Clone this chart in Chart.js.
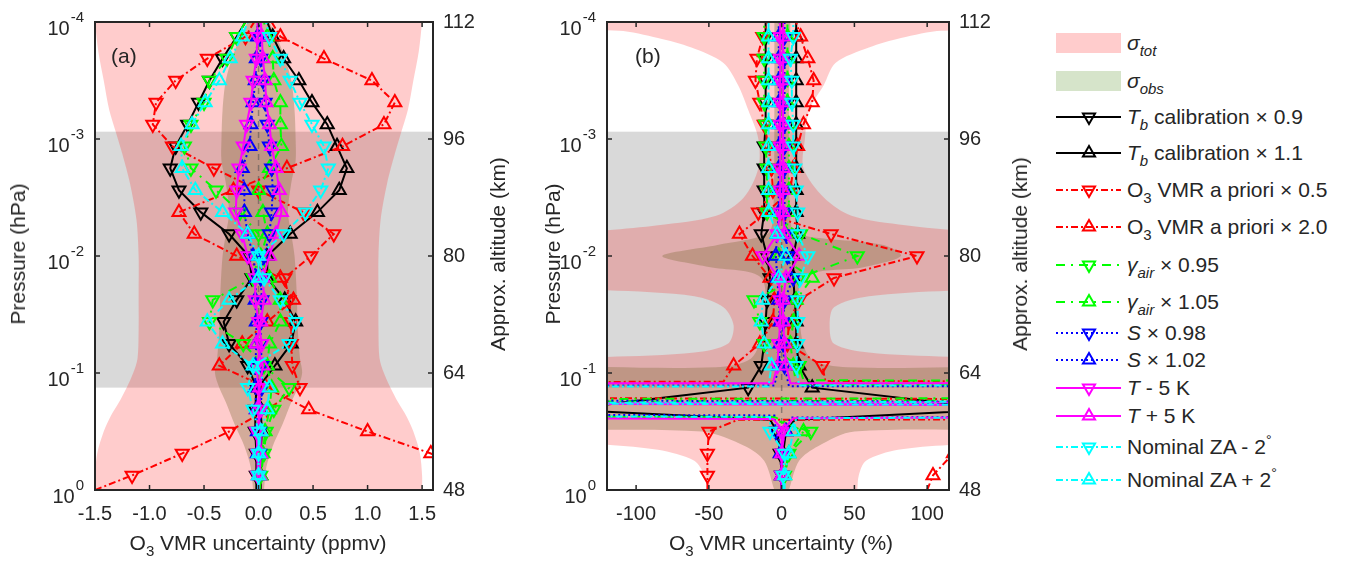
<!DOCTYPE html>
<html>
<head>
<meta charset="utf-8">
<title>O3 VMR uncertainty</title>
<script src="https://cdn.jsdelivr.net/npm/chart.js@4.4.1/dist/chart.umd.min.js"></script>
<style>
  body { margin: 0; width: 1360px; height: 561px; background: #fff; position: relative; overflow: hidden;
         font-family: "Liberation Sans", Arial, sans-serif; color: #262626; }
  canvas { position: absolute; top: 0; }
  #chartA { left: 0; }
  #chartB { left: 530px; }
  .txt { position: absolute; font-size: 21px; white-space: nowrap; line-height: 24px; }
  .ytitle { transform: translate(-50%, -50%) rotate(-90deg); }
  .xtitle { transform: translate(-50%, -50%); }
  sub { font-size: 15px; vertical-align: -6px; line-height: 0; }
  sup { font-size: 14px; vertical-align: 9px; line-height: 0; }
  .leg { position: absolute; left: 1056px; height: 30px; display: flex; align-items: center;
         font-size: 21px; white-space: nowrap; transform: translateY(-50%); }
  .leg svg, .leg .box { width: 65px; flex: none; margin-right: 6px; }
  .box { height: 20px; }
</style>
</head>
<body>
<canvas id="chartA" width="515" height="561"></canvas>
<canvas id="chartB" width="507" height="561"></canvas>
<div class="txt" style="left:111px;top:44px">(a)</div>
<div class="txt" style="left:635px;top:44px">(b)</div>
<div class="txt ytitle" style="left:18px;top:254px">Pressure (hPa)</div>
<div class="txt ytitle" style="left:498px;top:254px">Approx. altitude (km)</div>
<div class="txt ytitle" style="left:553px;top:254px">Pressure (hPa)</div>
<div class="txt ytitle" style="left:1020px;top:254px">Approx. altitude (km)</div>
<div class="txt xtitle" style="left:258px;top:543px">O<sub>3</sub> VMR uncertainty (ppmv)</div>
<div class="txt xtitle" style="left:781px;top:543px">O<sub>3</sub> VMR uncertainty (%)</div>
<div id="legend"></div>
<script>
'use strict';

// marked retrieval levels (km) and axis ticks
const levelKm = [50, 53, 56, 59, 62, 65, 68, 71, 74, 77, 80, 83, 86, 89, 92, 95, 98, 101, 104, 107, 110];
const pressureTicks = [1e-4, 1e-3, 1e-2, 1e-1, 1];
const altTicks = [48, 64, 80, 96, 112];
const xTicksA = [-1.5, -1, -0.5, 0, 0.5, 1, 1.5];
const xTicksB = [-100, -50, 0, 50, 100];
const greyBandKm = [62, 97];

// (a) O3 VMR change, ppmv (bottom level first)
const ppmvTb09 = [-0.02, -0.02, -0.03, -0.03, -0.02, -0.10, -0.27, -0.32, -0.20, -0.06, -0.09, -0.27, -0.53, -0.73, -0.81, -0.76, -0.65, -0.55, -0.45, -0.33, -0.20];
const ppmvTb11 = [0.02, 0.02, 0.03, 0.02, 0.00, 0.15, 0.30, 0.34, 0.24, 0.08, 0.08, 0.29, 0.54, 0.74, 0.81, 0.72, 0.63, 0.49, 0.37, 0.23, 0.13];
const ppmvApr05 = [-1.16, -0.70, -0.27, 0.08, 0.38, 0.31, 0.30, 0.30, 0.28, 0.24, 0.48, 0.69, 0.41, 0.00, -0.41, -0.79, -0.97, -0.94, -0.76, -0.47, -0.12];
const ppmvApr20 = [1.90, 1.58, 1.00, 0.46, 0.07, -0.36, -0.15, 0.08, 0.32, 0.20, -0.20, -0.59, -0.73, -0.23, 0.26, 0.77, 1.15, 1.25, 1.04, 0.60, 0.20];
const ppmvGam095 = [0.02, 0.05, 0.07, 0.14, 0.28, 0.05, -0.14, -0.45, -0.42, -0.05, 0.00, 0.00, -0.17, -0.39, -0.62, -0.68, -0.62, -0.50, -0.45, -0.29, -0.20];
const ppmvGam105 = [0.02, 0.04, 0.06, 0.10, 0.12, 0.08, 0.10, 0.20, 0.20, 0.10, 0.02, 0.08, 0.04, 0.00, 0.10, 0.21, 0.20, 0.20, 0.14, 0.13, 0.08];
const ppmvS098 = [0.00, 0.01, 0.01, 0.02, 0.03, 0.03, 0.02, 0.02, 0.03, 0.02, 0.05, 0.10, 0.12, 0.13, 0.12, 0.10, 0.08, 0.06, 0.04, 0.02, 0.01];
const ppmvS102 = [0.00, -0.01, -0.01, -0.02, -0.03, -0.03, -0.02, -0.02, -0.03, -0.02, -0.05, -0.10, -0.13, -0.13, -0.15, -0.08, -0.07, -0.05, -0.03, -0.02, -0.01];
const ppmvTm5 = [-0.01, -0.01, -0.02, 0.02, 0.00, -0.02, 0.03, 0.00, -0.03, -0.03, -0.10, -0.15, -0.21, -0.20, -0.18, -0.14, -0.11, -0.07, -0.05, -0.02, -0.01];
const ppmvTp5 = [0.01, 0.02, 0.02, -0.01, 0.01, 0.04, -0.02, 0.02, 0.05, 0.04, 0.10, 0.16, 0.21, 0.19, 0.16, 0.12, 0.10, 0.07, 0.06, 0.04, 0.03];
const ppmvZam2 = [0.00, 0.00, 0.00, -0.05, -0.10, -0.05, 0.28, 0.34, 0.20, 0.05, 0.00, 0.23, 0.43, 0.57, 0.64, 0.60, 0.49, 0.38, 0.29, 0.20, 0.10];
const ppmvZap2 = [0.00, 0.00, 0.02, 0.08, 0.10, -0.05, -0.33, -0.47, -0.27, 0.00, 0.00, -0.10, -0.33, -0.58, -0.70, -0.71, -0.61, -0.49, -0.36, -0.26, -0.15];
// (a) unmarked profile ends at 48 km and 112 km, series order
const ppmvAt48 = [-0.02, 0.02, -1.50, 2.20, 0.01, 0.01, 0.00, 0.00, 0.00, 0.00, 0.00, 0.00];
const ppmvAt112 = [-0.12, 0.08, -0.04, 0.12, -0.12, 0.05, 0.01, -0.01, -0.01, 0.02, 0.07, -0.10];

// (b) O3 VMR change, % (bottom level first); big numbers run off the plot
const pctTb09 = [0, -1, -3, -150, -23, -14, -12, -11, -10, -8, -10, -14, -12, -12, -12, -12, -11, -11, -11, -11, -11];
const pctTb11 = [0, 1, 3, 150, 21, 12, 10, 10, 9, 8, 8, 11, 10, 10, 10, 10, 10, 10, 10, 10, 10];
const pctApr05 = [-51, -51, -50, 4000, 4000, 28, 4, 5, 12, 36, 93, 34, -16, -6, -7, -9, -12, -15, -18, -17, -13];
const pctApr20 = [104, 118, 160, 4000, -4000, -33, -15, -6, -5, -8, -20, -29, -10, 6, 8, 11, 15, 21, 22, 18, 13];
const pctGam095 = [2, 5, 20, -2500, 4000, 12, -12, -15, -19, 12, 52, 13, -10, -10, -10, -11, -11, -12, -12, -12, -12];
const pctGam105 = [2, 5, 15, -4000, 4000, 8, 6, 8, 10, 21, -2, 3, 5, 5, 5, 5, 5, 4, 4, 4, 4];
const pctS098 = [0, 1, -4, -1500, 4000, 2, 1, 1, 2, 8, 4, 3, 2, 2, 2, 2, 2, 2, 2, 2, 2];
const pctS102 = [0, -1, 3, 2500, -4000, -2, -1, -1, -2, -3, -4, -3, -2, -2, -2, -2, -2, -2, -2, -2, -2];
const pctTm5 = [0, 0, 0, 1200, -4000, -3, -2, -1, -1, -2, -13, -3, -1, -1, -1, -1, -1, -1, -1, -1, -1];
const pctTp5 = [0, 0, 2, -1800, 4000, 3, 2, 1, 1, 3, 12, 2, 1, 1, 1, 1, 1, 1, 1, 1, 1];
const pctZam2 = [1, 2, -8, -2000, 4000, 10, 11, 11, 11, 13, 18, 11, 11, 10, 9, 8, 8, 7, 7, 6, 8];
const pctZap2 = [2, 5, 8, 1300, -4000, -7, -12, -14, -13, -2, 3, -3, -9, -9, -9, -9, -9, -9, -9, -9, -9];
const pctAt48 = [0, 0, -51, 100, 1, 1, 0, 0, 0, 0, 1, 2];
const pctAt112 = [-11, 10, -10, 10, -12, 4, 2, -2, -1, 1, 8, -9];

// (b) unmarked profile points between levels, [km, %]
const pctTb09Extra = [[57.6, -8]];
const pctTb11Extra = [[57.6, 9]];
const pctApr05Extra = [[62.9, 30], [57.6, -30]];
const pctApr20Extra = [[62.8, -40]];
const pctGam095Extra = [[63.0, 15], [57.9, -10]];
const pctGam105Extra = [[62.4, 10], [58.0, -5]];
const pctS098Extra = [[62.2, 5], [58.2, -5]];
const pctS102Extra = [[62.3, -5], [57.9, 6]];
const pctTm5Extra = [[62.6, -6], [57.8, 8]];
const pctTp5Extra = [[62.6, 6], [57.7, -6]];
const pctZam2Extra = [[62.3, 12], [58.0, -8]];
const pctZap2Extra = [[62.15, -9], [57.8, 10]];

// error envelopes
const totKmA = [48, 50, 53, 56, 58, 60, 62, 64, 66, 70, 75, 80, 85, 90, 94, 97, 100, 104, 108, 112];
const totA = [1.50, 1.50, 1.48, 1.42, 1.36, 1.28, 1.21, 1.15, 1.11, 1.10, 1.10, 1.10, 1.12, 1.18, 1.25, 1.31, 1.37, 1.42, 1.47, 1.50];
const obsKmA = [48, 51, 54, 57, 60, 62, 64, 66, 70, 75, 80, 83, 86, 90, 93, 96, 100, 104, 108, 112];
const obsA = [0.05, 0.07, 0.13, 0.22, 0.30, 0.36, 0.40, 0.38, 0.36, 0.35, 0.33, 0.30, 0.27, 0.30, 0.34, 0.34, 0.33, 0.30, 0.22, 0.10];
const totKmB = [48, 50, 52, 53.5, 54.3, 55, 65.8, 66.2, 66.8, 68, 70.5, 73, 74.5, 75.3, 76, 82.5, 83.4, 84.2, 85.5, 88, 92, 96, 100, 103.4, 106.4, 108.5, 109.8, 110.8, 111.4, 112];
const totLoB = [-50, -53, -60, -85, -130, -250, -250, -120, -60, -37, -33, -40, -60, -120, -250, -250, -130, -85, -45, -26, -16, -16, -23, -30, -40, -62, -85, -112, -250, -250];
const totHiB = [52, 53, 58, 80, 130, 250, 250, 120, 60, 36, 33, 36, 60, 120, 250, 250, 130, 85, 48, 29, 15, 16, 19, 29, 37, 60, 82, 110, 250, 250];
const obsKmB = [48, 52, 54, 56, 57.2, 64, 64.8, 66, 70, 77, 78.5, 80, 81.5, 83, 85, 100, 112];
const obsLoB = [-5, -12, -25, -55, -250, -250, -45, -21, -13, -14, -50, -82, -44, -10, -6, -5, -5];
const obsHiB = [5, 12, 25, 50, 250, 250, 45, 20, 13, 15, 57, 82, 70, 10, 6, 5, 6];

const lineStyles = [
  {color: '#000000', dash: [], down: true},
  {color: '#000000', dash: [], down: false},
  {color: '#ff0000', dash: [7, 3, 2, 3], down: true},
  {color: '#ff0000', dash: [7, 3, 2, 3], down: false},
  {color: '#00ff00', dash: [9, 6, 2, 6], down: true},
  {color: '#00ff00', dash: [9, 6, 2, 6], down: false},
  {color: '#0000ff', dash: [2, 3], down: true},
  {color: '#0000ff', dash: [2, 3], down: false},
  {color: '#ff00ff', dash: [], down: true},
  {color: '#ff00ff', dash: [], down: false},
  {color: '#00ffff', dash: [7, 3, 2, 3], down: true},
  {color: '#00ffff', dash: [7, 3, 2, 3], down: false}
];

const legendLabels = [
  '<i>σ<sub>tot</sub></i>',
  '<i>σ<sub>obs</sub></i>',
  '<i>T<sub>b</sub></i> calibration × 0.9',
  '<i>T<sub>b</sub></i> calibration × 1.1',
  'O<sub>3</sub> VMR a priori × 0.5',
  'O<sub>3</sub> VMR a priori × 2.0',
  '<i>γ<sub>air</sub></i> × 0.95',
  '<i>γ<sub>air</sub></i> × 1.05',
  '<i>S</i> × 0.98',
  '<i>S</i> × 1.02',
  '<i>T</i> - 5 K',
  '<i>T</i> + 5 K',
  'Nominal ZA - 2<sup>°</sup>',
  'Nominal ZA + 2<sup>°</sup>'
];
const legendRowY = [43, 81, 117, 153, 190, 227, 265, 302, 333, 360, 388, 416, 447, 480];

const INK = '#262626';
const FONT = '"Liberation Sans", Arial, sans-serif';
Chart.defaults.font.family = FONT;
Chart.defaults.color = INK;

function levelPoints(values, extra) {
  const pts = levelKm.map((km, i) => ({x: values[i], y: km, m: true}));
  extra.forEach(e => pts.push({x: e[1], y: e[0], m: false}));
  return pts.sort((p, q) => p.y - q.y);
}

function edge(km, xs, sign) {
  return km.map((k, i) => ({x: sign * xs[i], y: k}));
}

function makeDatasets(series, extras, bands) {
  const sets = series.map((vals, k) => {
    const st = lineStyles[k];
    return {
      data: levelPoints(vals, extras[k]),
      xAxisID: 'x', yAxisID: 'alt',
      borderColor: st.color, borderWidth: 2, borderDash: st.dash,
      pointStyle: 'triangle', pointRotation: st.down ? 180 : 0,
      pointRadius: c => (c.raw && c.raw.m ? 7.5 : 0),
      pointBorderColor: st.color, pointBackgroundColor: 'rgba(0,0,0,0)', pointBorderWidth: 2,
      fill: false, tension: 0, order: 12 - k
    };
  });
  sets.push({
    data: [{x: 0, y: 48}, {x: 0, y: 112}], xAxisID: 'x', yAxisID: 'alt',
    borderColor: 'rgba(80,80,80,0.55)', borderWidth: 1.5, borderDash: [6, 5],
    pointRadius: 0, fill: false, order: 30
  });
  bands.forEach(b => {
    sets.push({data: b.lo, xAxisID: 'x', yAxisID: 'alt', borderColor: 'rgba(0,0,0,0)', borderWidth: 0,
      pointRadius: 0, fill: '+1', backgroundColor: b.color, tension: 0.3, order: b.order});
    sets.push({data: b.hi, xAxisID: 'x', yAxisID: 'alt', borderColor: 'rgba(0,0,0,0)', borderWidth: 0,
      pointRadius: 0, fill: false, tension: 0.3, order: b.order});
  });
  return sets;
}

// grey band, box, inward ticks and 10^n labels
const frame = {
  id: 'frame',
  beforeDatasetsDraw(chart) {
    const {ctx, chartArea: a, scales} = chart;
    const yTop = scales.alt.getPixelForValue(greyBandKm[1]);
    const yBot = scales.alt.getPixelForValue(greyBandKm[0]);
    ctx.save();
    ctx.fillStyle = '#d9d9d9';
    ctx.fillRect(a.left, yTop, a.right - a.left, yBot - yTop);
    ctx.restore();
  },
  afterDatasetsDraw(chart) {
    const {ctx, chartArea: a, scales} = chart;
    ctx.save();
    ctx.strokeStyle = INK;
    ctx.lineWidth = 1.5;
    ctx.beginPath();
    scales.x.ticks.forEach(t => {
      const x = scales.x.getPixelForValue(t.value);
      ctx.moveTo(x, a.bottom); ctx.lineTo(x, a.bottom - 5);
      ctx.moveTo(x, a.top); ctx.lineTo(x, a.top + 5);
    });
    scales.alt.ticks.forEach(t => {
      const y = scales.alt.getPixelForValue(t.value);
      ctx.moveTo(a.left, y); ctx.lineTo(a.left + 5, y);
      ctx.moveTo(a.right, y); ctx.lineTo(a.right - 5, y);
    });
    ctx.stroke();
    ctx.lineWidth = 2;
    ctx.strokeRect(a.left, a.top, a.right - a.left, a.bottom - a.top);

    ctx.fillStyle = INK;
    ctx.textAlign = 'right';
    ctx.textBaseline = 'middle';
    pressureTicks.forEach(p => {
      const y = scales.p.getPixelForValue(p);
      const ex = String(Math.round(Math.log10(p)));
      const xe = a.left - 11;
      ctx.font = '15px ' + FONT;
      ctx.fillText(ex, xe, y - 4);
      const w = ctx.measureText(ex).width;
      ctx.font = '20px ' + FONT;
      ctx.fillText('10', xe - w - 1, y + 7);
    });
    ctx.restore();
  }
};

function makeChart(id, cfg) {
  const tickFont = {size: 20, family: FONT};
  return new Chart(document.getElementById(id), {
    type: 'line',
    data: {datasets: cfg.datasets},
    options: {
      responsive: false,
      animation: false,
      events: [],
      indexAxis: 'y',
      layout: {padding: {top: 19, left: 0, right: 0, bottom: 0}},
      plugins: {legend: {display: false}, tooltip: {enabled: false}, filler: {propagate: false}},
      elements: {line: {capBezierPoints: false}},
      scales: {
        x: {
          type: 'linear', position: 'bottom', min: cfg.xMin, max: cfg.xMax, offset: false,
          grid: {display: false, drawTicks: false}, border: {display: false},
          ticks: {font: tickFont, color: INK, padding: 12, maxRotation: 0, autoSkip: false, callback: cfg.fmt},
          afterBuildTicks: s => { s.ticks = cfg.xTicks.map(v => ({value: v})); },
          afterFit: s => { s.height = 71; }
        },
        alt: {
          type: 'linear', axis: 'y', position: 'right', min: 48, max: 112, offset: false,
          grid: {display: false, drawTicks: false}, border: {display: false},
          ticks: {font: tickFont, color: INK, padding: 10, callback: v => String(v)},
          afterBuildTicks: s => { s.ticks = altTicks.map(v => ({value: v})); },
          afterFit: s => { s.width = cfg.rightW; }
        },
        p: {
          type: 'logarithmic', axis: 'y', position: 'left', min: 1e-4, max: 1, reverse: true,
          grid: {display: false, drawTicks: false}, border: {display: false},
          ticks: {display: false},
          afterBuildTicks: s => { s.ticks = pressureTicks.map(v => ({value: v})); },
          afterFit: s => { s.width = cfg.leftW; }
        }
      }
    },
    plugins: [frame]
  });
}

const seriesA = [ppmvTb09, ppmvTb11, ppmvApr05, ppmvApr20, ppmvGam095, ppmvGam105, ppmvS098, ppmvS102, ppmvTm5, ppmvTp5, ppmvZam2, ppmvZap2];
const seriesB = [pctTb09, pctTb11, pctApr05, pctApr20, pctGam095, pctGam105, pctS098, pctS102, pctTm5, pctTp5, pctZam2, pctZap2];
const innerB = [pctTb09Extra, pctTb11Extra, pctApr05Extra, pctApr20Extra, pctGam095Extra, pctGam105Extra, pctS098Extra, pctS102Extra, pctTm5Extra, pctTp5Extra, pctZam2Extra, pctZap2Extra];
const extrasA = seriesA.map((s, k) => [[48, ppmvAt48[k]], [112, ppmvAt112[k]]]);
const extrasB = seriesB.map((s, k) => innerB[k].concat([[48, pctAt48[k]], [112, pctAt112[k]]]));

const PINK = 'rgba(255,0,0,0.2)';
const BROWN = 'rgba(130,110,60,0.35)';

makeChart('chartA', {
  datasets: makeDatasets(seriesA, extrasA, [
    {lo: edge(totKmA, totA, -1), hi: edge(totKmA, totA, 1), color: PINK, order: 60},
    {lo: edge(obsKmA, obsA, -1), hi: edge(obsKmA, obsA, 1), color: BROWN, order: 50}
  ]),
  xMin: -1.5, xMax: 1.6, xTicks: xTicksA, fmt: v => v.toFixed(1), leftW: 95, rightW: 82
});

makeChart('chartB', {
  datasets: makeDatasets(seriesB, extrasB, [
    {lo: edge(totKmB, totLoB, 1), hi: edge(totKmB, totHiB, 1), color: PINK, order: 60},
    {lo: edge(obsKmB, obsLoB, 1), hi: edge(obsKmB, obsHiB, 1), color: BROWN, order: 50}
  ]),
  xMin: -120, xMax: 115, xTicks: xTicksB, fmt: v => String(v), leftW: 77, rightW: 88
});

// legend
function lineIcon(st) {
  const c = 33, cy = 10, r = 7, s = r * Math.sin(Math.PI / 3), h = r / 2;
  const tri = st.down
    ? `${c},${cy + r} ${c + s},${cy - h} ${c - s},${cy - h}`
    : `${c},${cy - r} ${c + s},${cy + h} ${c - s},${cy + h}`;
  const dash = st.dash.length ? st.dash.join(' ') : 'none';
  return `<svg width="65" height="20"><line x1="0" y1="10" x2="65" y2="10" stroke="${st.color}" stroke-width="2" stroke-dasharray="${dash}"/>` +
         `<polygon points="${tri}" fill="none" stroke="${st.color}" stroke-width="2"/></svg>`;
}

const legend = document.getElementById('legend');
legendLabels.forEach((html, r) => {
  const row = document.createElement('div');
  row.className = 'leg';
  row.style.top = legendRowY[r] + 'px';
  const icon = r < 2
    ? `<div class="box" style="background:${r ? '#d6e4ca' : '#ffcccc'}"></div>`
    : lineIcon(lineStyles[r - 2]);
  row.innerHTML = icon + '<span>' + html + '</span>';
  legend.appendChild(row);
});
</script>
</body>
</html>
